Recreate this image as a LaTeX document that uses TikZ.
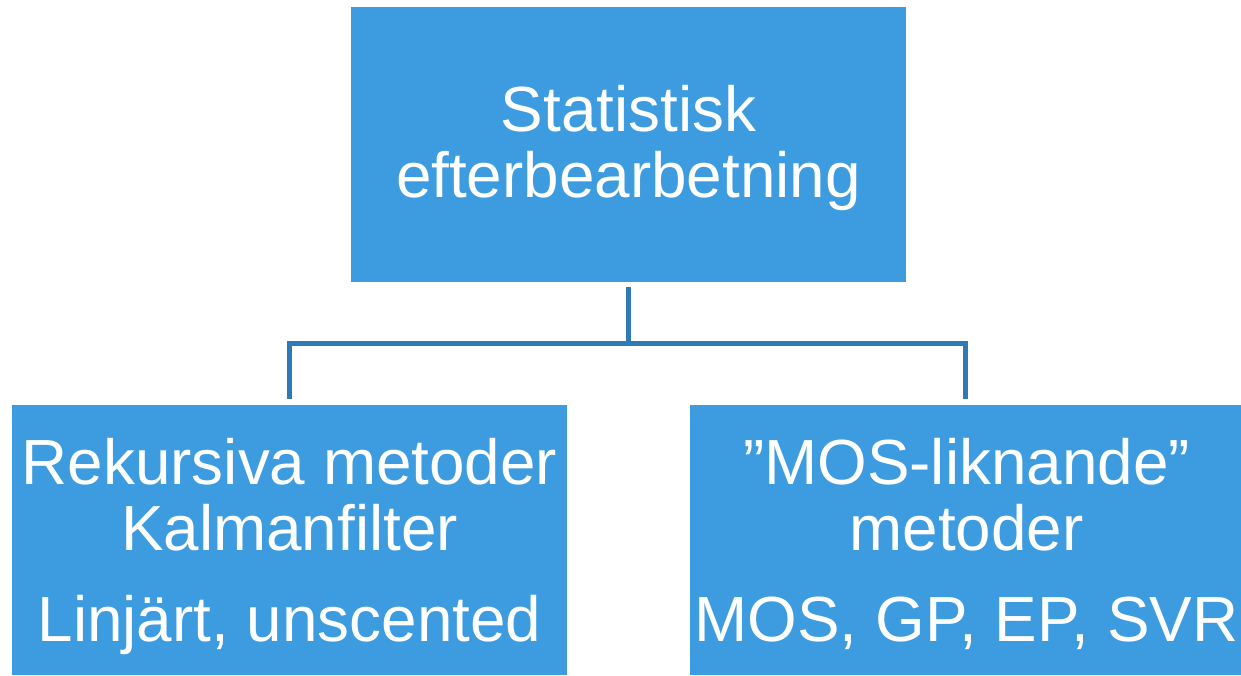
\documentclass[tikz,border=0pt]{standalone}
\usepackage{fontspec}
\setmainfont{Liberation Sans}
\definecolor{boxblue}{RGB}{61,156,223}
\definecolor{linkblue}{RGB}{46,122,182}
\tikzset{
  catbox/.style={rectangle, fill=boxblue, draw=none, inner sep=0pt},
  cattext/.style={text=white, align=center, anchor=base, inner sep=0pt,
    font=\fontsize{63.8}{66}\selectfont},
  conn/.style={draw=linkblue, line width=5pt}
}
\begin{document}
\begin{tikzpicture}[x=1pt, y=-1pt]
  \useasboundingbox (0,0) rectangle (1241,675);

  % parent category (text anchored at the baseline of its last line)
  \node[catbox, minimum width=555.3pt, minimum height=275pt] (top) at (628.35,144.5) {};
  \node[cattext] (toptxt) at (628.35,197) {Statistisk\\efterbearbetning};

  % child categories
  \node[catbox, minimum width=555pt, minimum height=270pt] (left) at (289.5,540) {};
  \node[cattext] (lefttxt) at (289.5,641)
    {Rekursiva metoder\\Kalmanfilter\\[25pt]Linjärt, unscented};

  \node[catbox, minimum width=551pt, minimum height=270pt] (right) at (965.5,540) {};
  \node[cattext] (righttxt) at (966.5,641)
    {”MOS-liknande”\\metoder\\[25pt]MOS, GP, EP, SVR};

  % tree connectors
  \coordinate (mid) at (628.35,343);
  \draw[conn] ([yshift=-5pt]top.south) -- (top.south |- mid);
  \draw[conn] ([yshift=6pt]left.north) |- (mid) -| ([yshift=6pt]right.north);
\end{tikzpicture}
\end{document}
